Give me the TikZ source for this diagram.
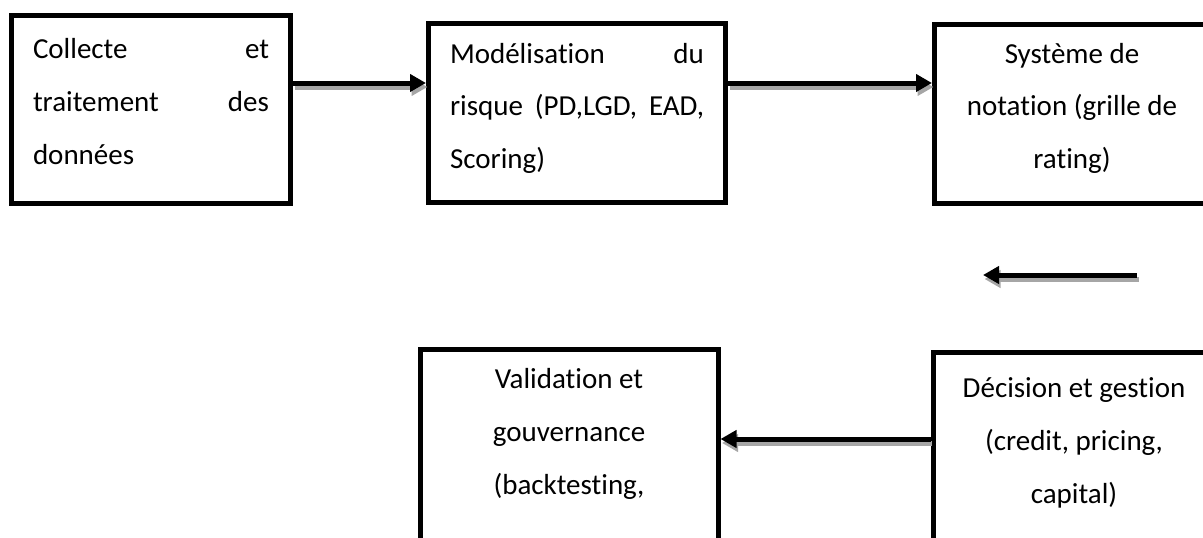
\documentclass[tikz,border=0pt]{standalone}
\usepackage{fontspec}
\setmainfont{Carlito}[Ligatures=CommonOff]
\usetikzlibrary{arrows.meta}

% a connector drawn twice: a grey offset copy underneath, then the black arrow
\newcommand\shadowedflow[2]{%
  \draw[flowshadow] #1 -- #2;
  \draw[flow] #1 -- #2;}

\begin{document}
\begin{tikzpicture}[x=1pt,y=-1pt,
  box/.style={draw, line width=5pt, rectangle, inner sep=0pt,
    font=\fontsize{29}{53}\selectfont},
  flow/.style={line width=5pt, -{Triangle[length=16pt,width=17pt]}},
  flowshadow/.style={flow, draw=black!35, fill=black!35,
    transform canvas={xshift=1.5pt,yshift=-4pt}}]

\useasboundingbox (0,0) rectangle (1203,538);
\clip (0,0) rectangle (1203,538);

% top row
\node[box, minimum width=279pt, minimum height=188pt,
      text height=17pt, text depth=120pt] (b1) at (151,109.5)
  {\parbox[t]{236pt}{Collecte\hfill et\\traitement\hfill des\\données}};
\node[box, minimum width=297pt, minimum height=179pt,
      text height=18pt, text depth=118pt] (b2) at (577,113)
  {\parbox[t]{254pt}{Modélisation\hfill du\\risque\hfill (PD,LGD,\hfill EAD,\\Scoring)}};
\node[box, minimum width=275pt, minimum height=179pt,
      text height=18pt, text depth=120pt] (b3) at (1072,114)
  {\parbox[t]{270pt}{\centering Système de\\notation (grille de\\rating)}};

% bottom row
\node[box, minimum width=298pt, minimum height=240pt,
      text height=18pt, text depth=180pt] (val) at (569,469)
  {\parbox[t]{290pt}{\centering Validation et\\gouvernance\\(backtesting,}};
\node[box, minimum width=282pt, minimum height=240pt,
      text height=19pt, text depth=170pt] (dec) at (1074,472.5)
  {\parbox[t]{275pt}{\centering Décision et gestion\\(credit, pricing,\\capital)}};

% connectors
\coordinate (r1) at (1137,275);
\coordinate (r2) at (983,275);

\shadowedflow{([yshift=26.5pt]b1.east)}{([yshift=30pt]b2.west)}
\shadowedflow{([yshift=30pt]b2.east)}{([yshift=31pt]b3.west)}
\shadowedflow{(r1)}{(r2)}
\shadowedflow{([yshift=33.5pt]dec.west)}{([yshift=30pt]val.east)}
\end{tikzpicture}
\end{document}
